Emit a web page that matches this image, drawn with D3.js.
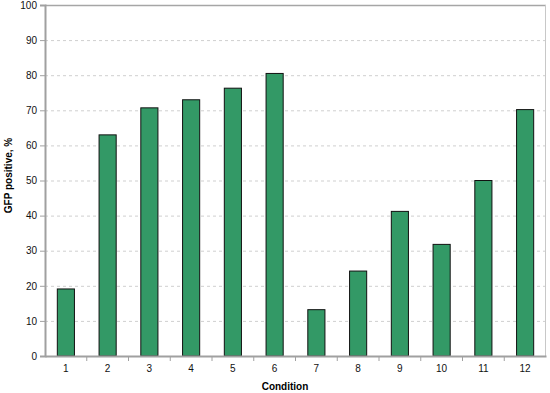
<!DOCTYPE html>
<html>
<head>
<meta charset="utf-8">
<script src="https://cdn.jsdelivr.net/npm/d3@7"></script>
<style>
  body { margin: 0; background: #fff; }
  svg { display: block; font-family: "Liberation Sans", Arial, sans-serif; }
  .tick text { font-size: 10px; fill: #111; }
  .axis-label { font-size: 10px; font-weight: bold; fill: #000; }
</style>
</head>
<body>
<div id="chart-area"><svg></svg></div>
<script>
const conditions = ["1", "2", "3", "4", "5", "6", "7", "8", "9", "10", "11", "12"];
const gfpPositive = [19.1, 63.0, 70.7, 73.0, 76.3, 80.5, 13.2, 24.2, 41.2, 31.8, 50.0, 70.2];
const yTicks = [0, 10, 20, 30, 40, 50, 60, 70, 80, 90, 100];

const chartSize = { width: 550, height: 393 };
const margin = { left: 45, right: 4, top: 5, bottom: 37 };

const width = chartSize.width - margin.left - margin.right;
const height = chartSize.height - margin.top - margin.bottom;

const svg = d3.select("#chart-area svg")
    .attr("width", chartSize.width)
    .attr("height", chartSize.height);

const g = svg.append("g")
    .attr("transform", `translate(${margin.left},${margin.top})`);

const x = d3.scaleBand()
    .domain(conditions)
    .range([0, width])
    .paddingInner(0.59)
    .paddingOuter(0.295);

// category boundaries for the tick marks
const xBounds = d3.scaleBand()
    .domain(conditions)
    .range([0, width]);

const y = d3.scaleLinear()
    .domain([0, 100])
    .range([height, 0]);

// gridlines
g.append("g")
    .selectAll("line")
    .data(yTicks.slice(1, -1))
    .join("line")
    .attr("x1", 0)
    .attr("x2", width)
    .attr("y1", d => y(d) + 0.5)
    .attr("y2", d => y(d) + 0.5)
    .attr("stroke", "#cfcfcf")
    .attr("stroke-dasharray", "3,3");

// frame top/right
g.append("line")
    .attr("x1", 0).attr("x2", width)
    .attr("y1", 0.5).attr("y2", 0.5)
    .attr("stroke", "#a6a6a6").attr("stroke-width", 1.5);
g.append("line")
    .attr("x1", width - 0.5).attr("x2", width - 0.5)
    .attr("y1", 0).attr("y2", height)
    .attr("stroke", "#c8c8c8");

// bars
g.selectAll("rect.bar")
    .data(gfpPositive)
    .join("rect")
    .attr("class", "bar")
    .attr("x", (d, i) => x(conditions[i]))
    .attr("y", d => y(d))
    .attr("width", x.bandwidth())
    .attr("height", d => y(0) - y(d))
    .attr("fill", "#339966")
    .attr("stroke", "#111")
    .attr("stroke-width", 1);

// y axis
const yAxis = g.append("g")
    .call(d3.axisLeft(y).tickValues(yTicks).tickSize(5).tickPadding(3));
yAxis.select(".domain").attr("stroke", "#a0a0a0").attr("stroke-width", 2);
yAxis.selectAll(".tick line").attr("stroke", "#a0a0a0");

// x axis
const xAxis = g.append("g")
    .attr("transform", `translate(0,${height})`)
    .call(d3.axisBottom(x).tickSize(0).tickPadding(9));
xAxis.select(".domain").attr("stroke", "#a0a0a0").attr("stroke-width", 2);

g.append("g")
    .selectAll("line")
    .data(conditions.slice(1))
    .join("line")
    .attr("x1", d => xBounds(d))
    .attr("x2", d => xBounds(d))
    .attr("y1", height)
    .attr("y2", height + 5)
    .attr("stroke", "#a0a0a0");

g.append("text")
    .attr("class", "axis-label")
    .attr("x", 240)
    .attr("y", height + 34)
    .attr("text-anchor", "middle")
    .text("Condition");

g.append("text")
    .attr("class", "axis-label")
    .attr("transform", "rotate(-90)")
    .attr("x", -height / 2 + 5)
    .attr("y", -33)
    .attr("text-anchor", "middle")
    .text("GFP positive, %");
</script>
</body>
</html>
